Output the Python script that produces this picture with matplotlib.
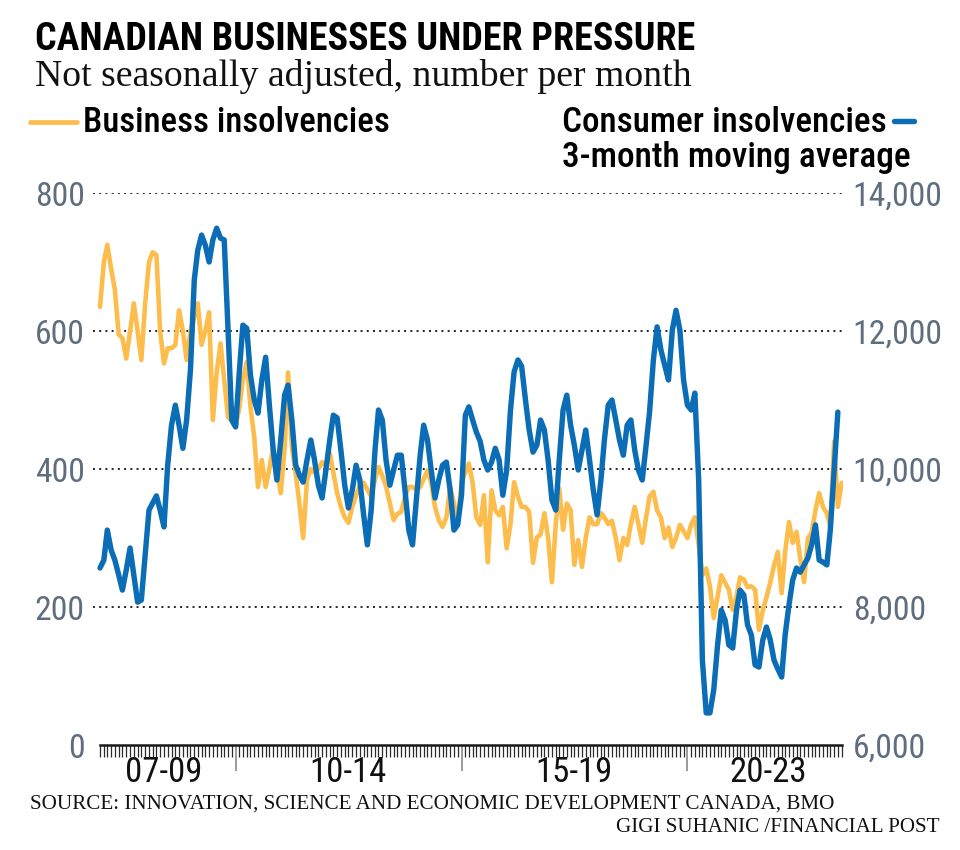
import numpy as np
import pandas as pd
import matplotlib
matplotlib.use('Agg')
import matplotlib.pyplot as plt
import matplotlib.dates as mdates
from matplotlib.lines import Line2D
from matplotlib.ticker import FixedLocator, FuncFormatter
from matplotlib.transforms import blended_transform_factory
from matplotlib import font_manager as fm

# ---------------- data ----------------
start_month = '2007-01-01'

business = [
    635, 700, 725, 690, 660, 595, 590, 560, 600, 640, 600, 558, 640, 700, 714, 710,
    600, 553, 575, 575, 580, 630, 600, 558, 600, 620, 640, 580, 600, 627, 471, 540,
    582, 530, 475, 470, 461, 490, 530, 555, 490, 446, 374, 413, 374, 400, 432, 400,
    365, 430, 540, 432, 394, 350, 300, 384, 400, 395, 400, 410, 405, 423, 395, 365,
    345, 330, 322, 345, 362, 375, 380, 370, 360, 385, 403, 390, 375, 350, 326, 335,
    338, 360, 374, 374, 370, 374, 385, 398, 380, 345, 326, 316, 330, 374, 350, 323,
    380, 395, 408, 380, 330, 319, 362, 265, 369, 340, 333, 345, 285, 320, 381, 360,
    345, 345, 338, 264, 301, 305, 336, 300, 236, 320, 372, 312, 350, 340, 261, 297,
    258, 300, 330, 320, 320, 336, 330, 320, 325, 300, 268, 300, 290, 320, 345, 320,
    293, 330, 360, 367, 340, 330, 300, 315, 287, 300, 319, 310, 300, 320, 330, 290,
    246, 256, 230, 184, 215, 246, 235, 225, 196, 215, 243, 240, 229, 230, 225, 167,
    195, 214, 236, 260, 280, 220, 280, 323, 293, 309, 270, 236, 300, 307, 340, 365,
    345, 336, 316, 440, 345, 380,
]

consumer = [
    8565, 8680, 9115, 8825, 8680, 8465, 8245, 8535, 8855, 8465, 8070, 8100, 8750, 9405,
    9505, 9610, 9405, 9160, 10055, 10635, 10925, 10635, 10300, 10710, 11435, 12740, 13170,
    13390, 13245, 13000, 13320, 13490, 13345, 13320, 12015, 10710, 10610, 11435, 12085,
    12040, 11360, 11000, 10810, 11290, 11620, 10925, 10275, 9840, 10420, 11070, 11215,
    10710, 10060, 9910, 9810, 10130, 10420, 10130, 9765, 9580, 9985, 10420, 10780, 10740,
    10275, 9765, 9435, 9695, 10055, 9840, 9335, 8900, 9405, 10275, 10855, 10710, 10130,
    9765, 9985, 10200, 10200, 9695, 9115, 8900, 9550, 10200, 10635, 10420, 9985, 9580,
    9840, 10055, 10100, 9695, 9115, 9190, 9620, 10780, 10900, 10710, 10535, 10400, 10130,
    9985, 10100, 10300, 10130, 9620, 9985, 10855, 11405, 11580, 11490, 11000, 10565,
    10245, 10345, 10710, 10565, 10130, 9550, 9405, 10130, 10855, 11070, 10635, 10345,
    9985, 10275, 10565, 10130, 9695, 9335, 9840, 10420, 10925, 11000, 10710, 10420,
    10200, 10635, 10710, 10275, 9985, 9840, 10345, 10825, 11580, 12060, 11725, 11505,
    11290, 12015, 12300, 12015, 11290, 10925, 10855, 11100, 9840, 7230, 6465, 6465,
    6800, 7450, 7955, 7810, 7450, 7405, 7955, 8245, 8175, 7740, 7595, 7160, 7130, 7520,
    7710, 7520, 7230, 7100, 6985, 7595, 8030, 8390, 8565, 8505, 8610, 8710, 8900, 9190,
    8680, 8650, 8610, 9115, 9985, 10825,
]

period_labels = ['07-09', '10-14', '15-19', '20-23']
period_label_dates = ['2008-06-01', '2012-07-01', '2017-07-01', '2021-10-15']
period_breaks = ['2010-01-01', '2015-01-01', '2020-01-01']
left_ticks = [0, 200, 400, 600, 800]
right_ticks = [6000, 8000, 10000, 12000, 14000]

# ---------------- style ----------------
ORANGE = '#FDBD4C'
BLUE = '#0A6DB5'
TICKGRAY = '#5E6E7E'

available = {f.name for f in fm.fontManager.ttflist}
narrow_pref = [n for n in ['Roboto Condensed', 'Liberation Sans Narrow', 'Roboto']
               if n in available]
NARROW = (narrow_pref[:1] or []) + ['DejaVu Sans']
SERIF = ['Liberation Serif', 'DejaVu Serif']

W, H = 960, 850
fig = plt.figure(figsize=(W / 100, H / 100), dpi=100)
fig.patch.set_facecolor('white')


def fx(px):
    return px / W


def fy(py):
    return 1 - py / H


ax = fig.add_axes([fx(93), fy(745), (843 - 93) / W, (745 - 193) / H])
ax2 = ax.twinx()

dates_b = pd.date_range(start_month, periods=len(business), freq='MS')
dates_c = pd.date_range(start_month, periods=len(consumer), freq='MS')
all_dates = dates_b if len(dates_b) >= len(dates_c) else dates_c
xa = mdates.date2num(all_dates)

ax.plot(dates_b, business, color=ORANGE, lw=3.3, solid_joinstyle='round',
        solid_capstyle='round', zorder=3)
ax2.plot(dates_c, consumer, color=BLUE, lw=3.9, solid_joinstyle='round',
         solid_capstyle='round', zorder=3)

mdays = 30.44
ax.set_xlim(xa[0] - 1.86 * mdays, xa[-1] + 0.35 * mdays)
ax.set_ylim(0, 800)
ax2.set_ylim(6000, 14000)

# dotted grid
for v in left_ticks[1:]:
    ax.axhline(v, color='#222222', lw=1.4, ls=(0, (1, 2.2)), zorder=1)

for a in (ax, ax2):
    for s in a.spines.values():
        s.set_visible(False)
    a.set_facecolor('none')

ax.spines['bottom'].set_visible(True)
ax.spines['bottom'].set_bounds(xa[0], xa[-1])
ax.spines['bottom'].set_color('#1a1a1a')
ax.spines['bottom'].set_linewidth(1.8)

# y ticks
ax.set_yticks(left_ticks)
ax.set_yticklabels([str(v) for v in left_ticks])
ax2.set_yticks(right_ticks)
ax2.yaxis.set_major_formatter(FuncFormatter(lambda v, p: f'{int(v):,}'))
ax.tick_params(axis='y', length=0, pad=6, labelcolor=TICKGRAY, labelsize=24)
ax2.tick_params(axis='y', length=0, pad=7, labelcolor=TICKGRAY, labelsize=24)

# x ticks: monthly minor, period breaks major
ax.xaxis.set_minor_locator(FixedLocator(xa))
ax.xaxis.set_major_locator(FixedLocator(mdates.date2num(pd.to_datetime(period_breaks))))
ax.tick_params(axis='x', which='minor', length=8.5, width=0.9, color='#2a2a2a', direction='out')
ax.tick_params(axis='x', which='major', length=19, width=1.2, color='#8a8a8a',
               direction='out', labelbottom=False)

trans = blended_transform_factory(ax.transData, ax.transAxes)
xlabs = []
for lab, d in zip(period_labels, period_label_dates):
    xlabs.append(ax.text(mdates.date2num(pd.Timestamp(d)), (745 - 773) / (745 - 193), lab,
                         transform=trans, ha='center', va='center', fontsize=23,
                         family=NARROW, color='#111111'))

# ---------------- texts ----------------
title = fig.text(fx(35), fy(40), 'CANADIAN BUSINESSES UNDER PRESSURE', ha='left', va='center',
                 fontsize=26, fontweight='bold', family=NARROW, color='#000000')
sub = fig.text(fx(35), fy(76), 'Not seasonally adjusted, number per month', ha='left',
               va='center', fontsize=22, family=SERIF, color='#111111')

fig.add_artist(Line2D([fx(30), fx(77)], [fy(122), fy(122)], color=ORANGE, lw=3.4,
                      solid_capstyle='round'))
leg1 = fig.text(fx(83), fy(123), 'Business insolvencies', ha='left', va='center',
                fontsize=24, fontweight='medium', family=NARROW, color='#000000')
leg2 = fig.text(fx(562), fy(123), 'Consumer insolvencies', ha='left', va='center',
                fontsize=24, fontweight='medium', family=NARROW, color='#000000')
fig.add_artist(Line2D([fx(894), fx(914)], [fy(121), fy(121)], color=BLUE, lw=3.9,
                      solid_capstyle='round'))
leg3 = fig.text(fx(562), fy(157), '3-month moving average', ha='left', va='center',
                fontsize=24, fontweight='medium', family=NARROW, color='#000000')

src = fig.text(fx(30), fy(804), 'SOURCE: INNOVATION, SCIENCE AND ECONOMIC DEVELOPMENT CANADA, BMO',
               ha='left', va='center', fontsize=14, family=SERIF, color='#111111')
cred = fig.text(fx(940), fy(827), 'GIGI SUHANIC /FINANCIAL POST', ha='right', va='center',
                fontsize=14, family=SERIF, color='#111111')

# fit text widths to the reference layout
fig.canvas.draw()
r = fig.canvas.get_renderer()
for t, wpx in [(title, 662), (sub, 655), (leg1, 307), (leg2, 325), (leg3, 350),
               (src, 808), (cred, 325)]:
    bb = t.get_window_extent(r)
    t.set_fontsize(t.get_fontsize() * wpx / bb.width)

# tick label sizes fitted to reference widths
probe = fig.text(0, 0, '14,000', fontsize=24, family=NARROW)
tw = probe.get_window_extent(r).width
probe.remove()
tick_fs = min(25, 24 * 90 / tw)
for lab in ax.get_yticklabels() + ax2.get_yticklabels():
    lab.set_family(NARROW)
    lab.set_fontsize(tick_fs)
probe = fig.text(0, 0, '07-09', fontsize=23, family=NARROW)
xw = probe.get_window_extent(r).width
probe.remove()
for t in xlabs:
    t.set_fontsize(min(25, 23 * 80 / xw))

fig.savefig('out.png', dpi=100, facecolor='white')
